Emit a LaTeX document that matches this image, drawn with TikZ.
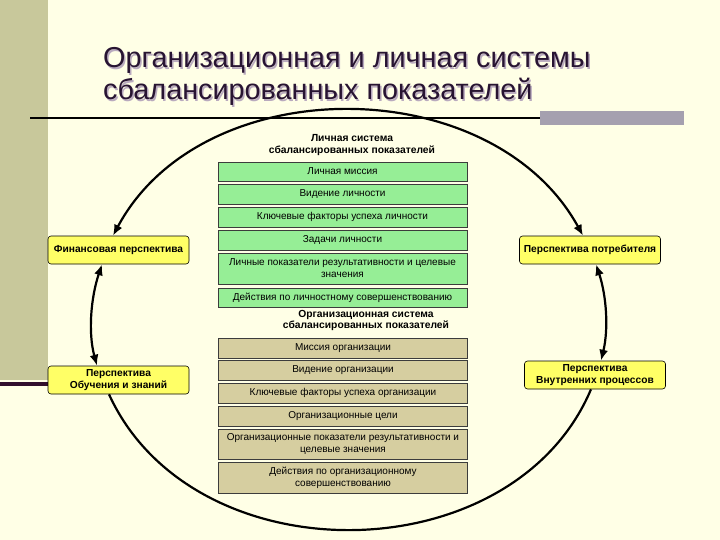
\documentclass[tikz,border=0pt]{standalone}
\usepackage{fontspec}
\setmainfont{Liberation Sans}
\usetikzlibrary{arrows.meta}
\definecolor{bg}{RGB}{255,255,230}
\definecolor{strip}{RGB}{200,200,155}
\definecolor{stripline}{RGB}{50,15,45}
\definecolor{graybar}{RGB}{165,160,175}
\definecolor{titlec}{RGB}{40,20,50}
\definecolor{titlesh}{RGB}{185,170,190}
\definecolor{yel}{RGB}{255,255,102}
\definecolor{grn}{RGB}{150,238,150}
\definecolor{tanc}{RGB}{214,206,160}
\definecolor{boxline}{RGB}{60,60,60}
\tikzset{
  titletext/.style={anchor=base west, inner sep=0, font=\fontsize{28.8}{32}\selectfont, text=titlec},
  shadowtext/.style={anchor=base west, inner sep=0, font=\fontsize{28.8}{32}\selectfont, text=titlesh},
  hdr/.style={align=center, inner sep=0, font=\bfseries\fontsize{10.3}{11.8}\selectfont},
  stepbox/.style={draw=boxline, line width=0.6pt, minimum width=249pt, align=center, inner sep=0, font=\fontsize{10}{12}\selectfont},
  gbox/.style={stepbox, fill=grn},
  tbox/.style={stepbox, fill=tanc},
  ybox/.style={draw=black, line width=0.6pt, fill=yel, rounded corners=3pt, minimum width=141pt, minimum height=28pt, align=center, inner sep=0, font=\bfseries\fontsize{10.2}{12}\selectfont},
  arc/.style={line width=2.2pt, draw=black},
  tips/.style={{Latex[length=11pt,width=9pt]}-{Latex[length=11pt,width=9pt]}}
}
\begin{document}
\begin{tikzpicture}[x=1pt,y=-1pt]
\fill[bg] (0,0) rectangle (720,540);
\useasboundingbox (0,0) rectangle (720,540);
\fill[strip] (0,0) rectangle (48,380);
\fill[stripline] (0,382) rectangle (49,386);
% title
\node[shadowtext] at (104.5,69.5) {Организационная и личная системы};
\node[shadowtext] at (104.5,101.5) {сбалансированных показателей};
\node[titletext] (t1) at (103,68) {Организационная и личная системы};
\node[titletext] (t2) at (103,100) {сбалансированных показателей};
\draw[line width=1.5pt] (30,118) -- (540,118);
\fill[graybar] (540,111) rectangle (684,125);
% side boxes
\node[ybox] (fin) at (118.5,250) {Финансовая перспектива};
\node[ybox] (learn) at (118.5,380) {Перспектива\\Обучения и знаний};
\node[ybox] (cons) at (590,250) {Перспектива потребителя};
\node[ybox] (inner) at (595,375) {Перспектива\\Внутренних процессов};
% arcs
\draw[arc,tips] ([xshift=-5.5pt]fin.north) .. controls (202,69) and (492,70) .. ([xshift=-7pt]cons.north);
\draw[arc,tips] ([xshift=-16.5pt]fin.south) .. controls (90.8,297.8) and (88,332.7) .. ([xshift=-21.5pt]learn.north);
\draw[arc,tips] ([xshift=6pt]cons.south) .. controls (606.6,296.2) and (608.6,329.2) .. ([xshift=6pt]inner.north);
\draw[arc] ([xshift=-9.5pt]learn.south) .. controls (192.7,577.9) and (512.7,574.5) .. ([xshift=-4pt]inner.south);
% personal system
\node[hdr] (ph) at (352,145) {Личная система\\сбалансированных показателей};
\node[gbox, minimum height=19pt] (g1) at (342.5,171.5) {Личная миссия};
\node[gbox, minimum height=20pt] (g2) at (342.5,194) {Видение личности};
\node[gbox, minimum height=20pt] (g3) at (342.5,217) {Ключевые факторы успеха личности};
\node[gbox, minimum height=20pt] (g4) at (342.5,240) {Задачи личности};
\node[gbox, minimum height=31pt] (g5) at (342.5,268.5) {Личные показатели результативности и целевые\\значения};
\node[gbox, minimum height=19pt] (g6) at (342.5,297.5) {Действия по личностному совершенствованию};
% organizational system
\node[hdr] (oh) at (366,320.5) {Организационная система\\сбалансированных показателей};
\node[tbox, minimum height=20pt] (o1) at (343,348) {Миссия организации};
\node[tbox, minimum height=20pt] (o2) at (343,370) {Видение организации};
\node[tbox, minimum height=20pt] (o3) at (343,393) {Ключевые факторы успеха организации};
\node[tbox, minimum height=20pt] (o4) at (343,416) {Организационные цели};
\node[tbox, minimum height=30pt] (o5) at (343,444) {Организационные показатели результативности и\\целевые значения};
\node[tbox, minimum height=31pt] (o6) at (343,477.5) {Действия по организационному\\совершенствованию};
\end{tikzpicture}
\end{document}
